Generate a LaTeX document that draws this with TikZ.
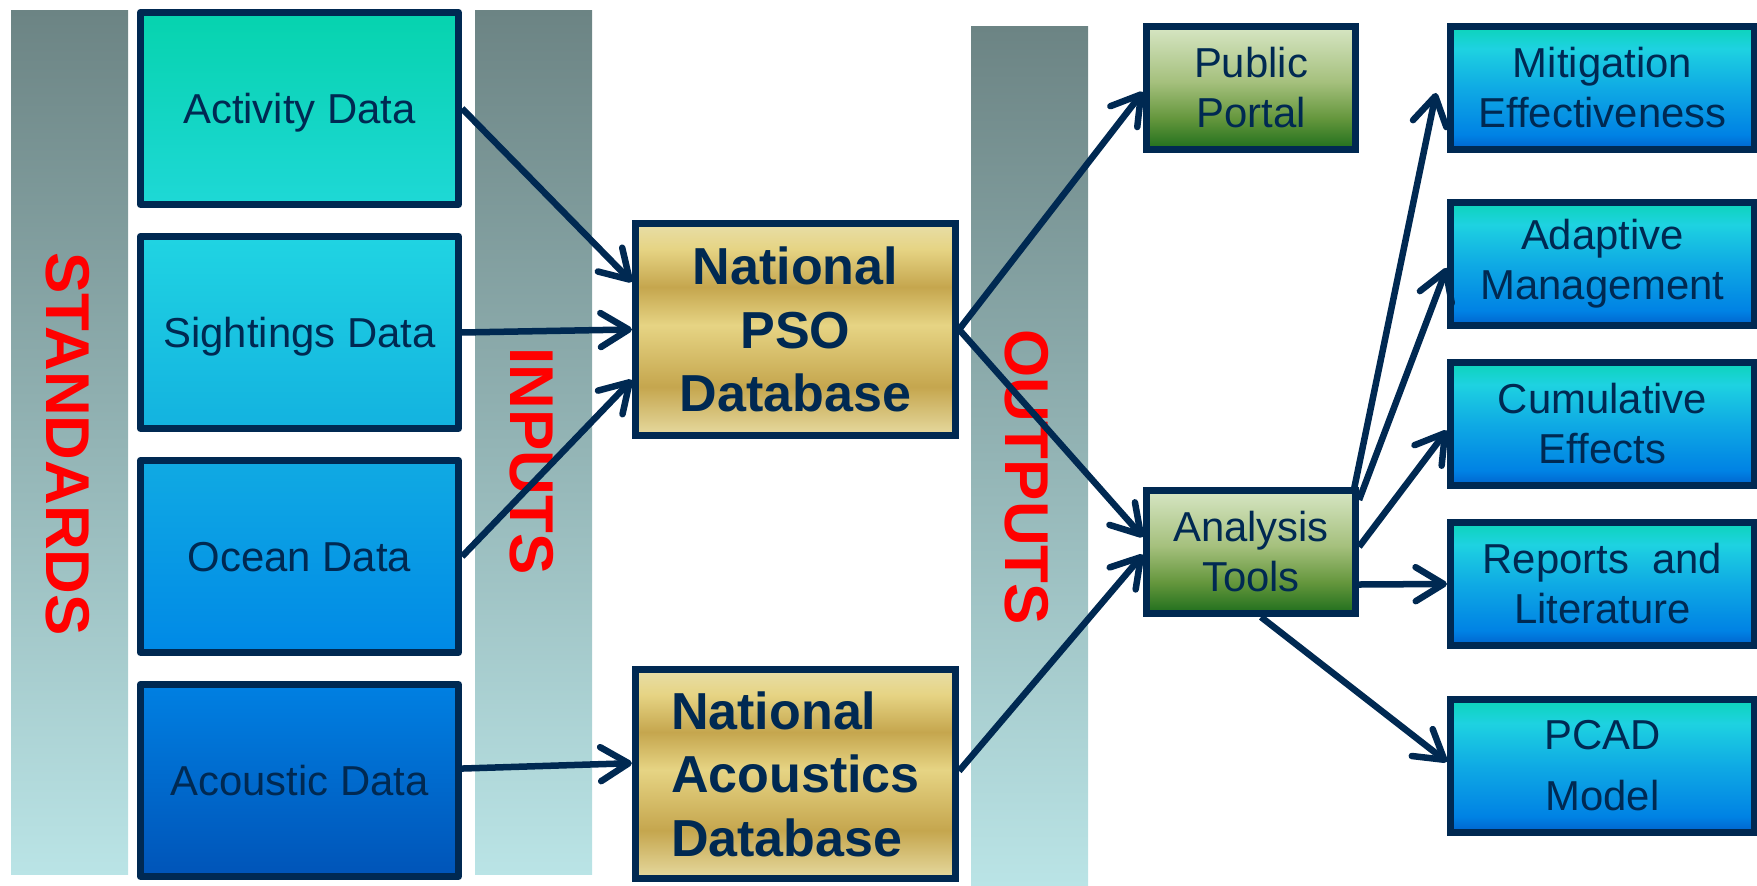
\documentclass[tikz,border=0pt]{standalone}
\usepackage{fontspec}
\setmainfont{Liberation Sans}
\usetikzlibrary{arrows.meta,calc}

% palette
\definecolor{navy}{RGB}{0,41,82}
\definecolor{labelred}{RGB}{255,0,0}
\definecolor{bartop}{RGB}{108,132,132}
\definecolor{barbot}{RGB}{186,228,230}
\definecolor{actA}{RGB}{6,211,174}
\definecolor{actB}{RGB}{30,216,214}
\definecolor{sigA}{RGB}{32,212,226}
\definecolor{sigB}{RGB}{19,178,224}
\definecolor{oceA}{RGB}{16,170,227}
\definecolor{oceB}{RGB}{0,137,230}
\definecolor{acoA}{RGB}{0,128,226}
\definecolor{acoB}{RGB}{0,84,184}
\definecolor{goldL}{RGB}{230,218,160}
\definecolor{goldM}{RGB}{230,212,132}
\definecolor{goldD}{RGB}{197,166,78}
\definecolor{goldT}{RGB}{232,222,168}
\definecolor{grnT}{RGB}{215,230,196}
\definecolor{grnM}{RGB}{165,192,125}
\definecolor{grnD}{RGB}{100,150,60}
\definecolor{grnB}{RGB}{30,110,28}
\definecolor{bluT}{RGB}{12,212,185}
\definecolor{bluC}{RGB}{30,210,225}
\definecolor{bluM}{RGB}{15,170,228}
\definecolor{bluL}{RGB}{0,130,228}
\definecolor{bluB}{RGB}{0,98,205}

% Shadings are fitted so that 25bp..75bp spans the filled shape.
% banded gold for the two databases
\pgfdeclareverticalshading{goldband}{100bp}{color(0bp)=(goldL); color(25bp)=(goldL);
  color(36.5bp)=(goldD); color(51bp)=(goldM); color(60bp)=(goldD); color(69bp)=(goldM);
  color(75bp)=(goldT); color(100bp)=(goldT)}
% green for the portal and the tools
\pgfdeclareverticalshading{greenfade}{100bp}{color(0bp)=(grnB); color(25bp)=(grnB);
  color(37.5bp)=(grnD); color(52.5bp)=(grnM); color(75bp)=(grnT); color(100bp)=(grnT)}
% teal to blue for the products
\pgfdeclareverticalshading{bluefade}{100bp}{color(0bp)=(bluB); color(25bp)=(bluB);
  color(31bp)=(bluL); color(50bp)=(bluM); color(66bp)=(bluC); color(75bp)=(bluT);
  color(100bp)=(bluT)}

\tikzset{
  bar/.style={top color=bartop, bottom color=barbot},
  sidelabel/.style={rotate=-90, text=labelred, inner sep=0pt,
    font=\fontsize{17.6}{20}\selectfont\bfseries},
  box/.style={draw=navy, line width=0.07cm, text=navy, inner sep=0pt},
  inbox/.style={box, line join=round, minimum width=3.18cm, minimum height=1.92cm,
    text height=0.3cm, text depth=0pt, font=\fontsize{11.9}{14.2}\selectfont},
  dbbox/.style={box, shade, shading=goldband, minimum width=3.20cm,
    font=\fontsize{14.8}{18.07}\selectfont\bfseries},
  greenbox/.style={box, shade, shading=greenfade, minimum width=2.09cm,
    minimum height=1.23cm, align=center, font=\fontsize{11.9}{14.2}\selectfont},
  outbox/.style={box, shade, shading=bluefade, minimum width=3.04cm,
    minimum height=1.23cm, align=center, font=\fontsize{11.9}{14.2}\selectfont},
  arr/.style={draw=navy, line width=0.065cm,
    -{Straight Barb[length=0.28cm, width=0.34cm, line cap=round, line join=round]}},
}

\begin{document}
\begin{tikzpicture}[x=0.01cm,y=-0.01cm]
\useasboundingbox (0,0) rectangle (1757,886);

% column bands
\fill[bar] (11,11) rectangle (128,875);
\fill[bar] (475,11) rectangle (592,875);
\fill[bar] (971,27) rectangle (1088,886);
\node[sidelabel] (stdlab) at (68,444) {STANDARDS};
\node[sidelabel] (inlab) at (532,461) {INPUTS};
\node[sidelabel] (outlab) at (1027,477) {OUTPUTS};

% data inputs
\node[inbox, top color=actA, bottom color=actB] (act) at (299.5,108.5) {Activity Data};
\node[inbox, top color=sigA, bottom color=sigB] (sig) at (299.5,332.5) {Sightings Data};
\node[inbox, top color=oceA, bottom color=oceB] (oce) at (299.5,556.5) {Ocean Data};
\node[inbox, top color=acoA, bottom color=acoB] (aco) at (299.5,780.5) {Acoustic Data};

% databases
\node[dbbox, minimum height=2.12cm, align=center] (pso) at (795.5,329.5)
  {National\\PSO\\Database};
\node[dbbox, minimum height=2.09cm, align=left] (adb) at (795.5,774)
  {National\\Acoustics\\Database};

% outputs
\node[greenbox] (portal) at (1251,88) {Public\\Portal};
\node[greenbox] (tools) at (1251,552) {Analysis\\Tools};

% products
\node[outbox] (mit) at (1602.5,88) {Mitigation\\Effectiveness};
\node[outbox] (ada) at (1602.5,264) {Adaptive\\Management};
\node[outbox] (cum) at (1602.5,424) {Cumulative\\Effects};
\node[outbox] (rep) at (1602.5,584) {Reports~~and\\Literature};
\node[outbox, minimum height=1.33cm, font=\fontsize{11.9}{17.36}\selectfont] (pcad)
  at (1602.5,766) {PCAD\\Model};

% flows into the databases
\draw[arr] (act.east) -- ($(pso.north west)!0.283!(pso.south west)$);
\draw[arr] (sig.east) -- (pso.west);
\draw[arr] (oce.east) -- ($(pso.north west)!0.73!(pso.south west)$);
\draw[arr] ($(aco.north east)!0.44!(aco.south east)$) -- ($(adb.north west)!0.45!(adb.south west)$);

% flows out of the databases
\draw[arr] (pso.east) -- ($(portal.north west)!0.53!(portal.south west)$);
\draw[arr] (pso.east) -- ($(tools.north west)!0.385!(tools.south west)$);
\draw[arr] ($(adb.north east)!0.486!(adb.south east)$) -- ($(tools.north west)!0.52!(tools.south west)$);

% products of the analysis tools
\coordinate (mittip) at (1436,93);
\draw[arr] ($(tools.north east)+(-5,2)$) -- (mittip);
\draw[arr] ($(tools.north east)!0.1!(tools.south east)$) -- ($(ada.north west)!0.53!(ada.south west)$);
\draw[arr] ($(tools.north east)!0.46!(tools.south east)$) -- ($(cum.north west)!0.55!(cum.south west)$);
\draw[arr] ($(tools.north east)!0.75!(tools.south east)$) -- (rep.west);
\draw[arr] ($(tools.south)+(10,0)$) -- ($(pcad.north west)!0.47!(pcad.south west)$);
\end{tikzpicture}
\end{document}
